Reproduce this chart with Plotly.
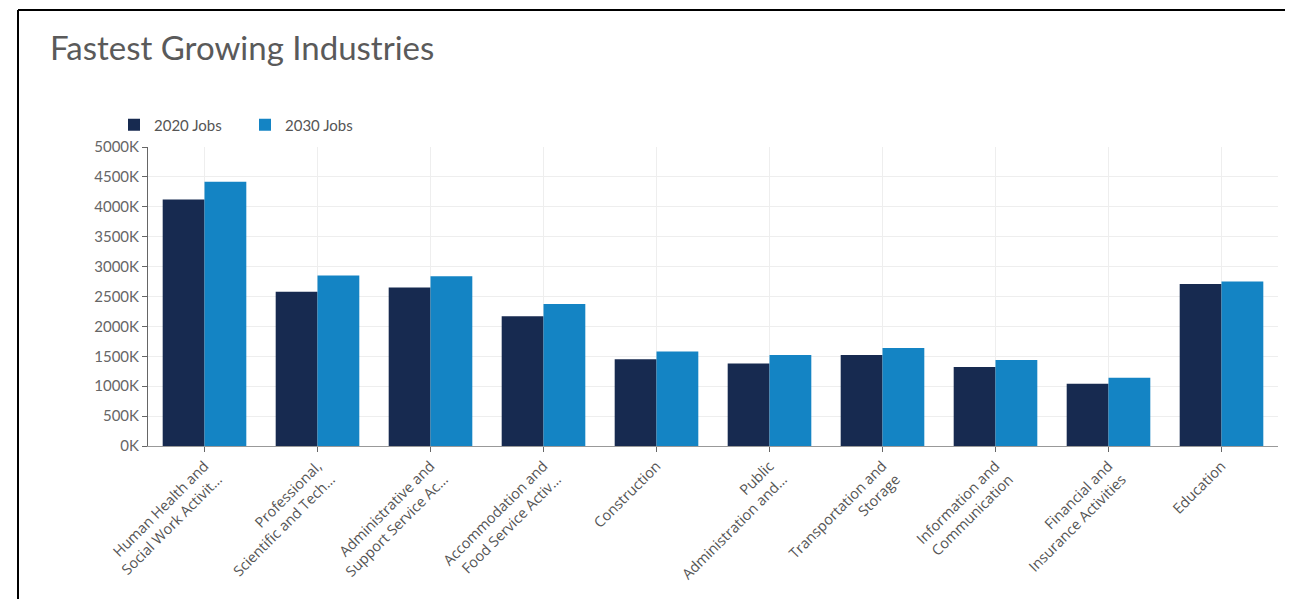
import plotly.graph_objects as go

categories = [
    "Human Health and<br>Social Work Activit…",
    "Professional,<br>Scientific and Tech…",
    "Administrative and<br>Support Service Ac…",
    "Accommodation and<br>Food Service Activ…",
    "Construction",
    "Public<br>Administration and…",
    "Transportation and<br>Storage",
    "Information and<br>Communication",
    "Financial and<br>Insurance Activities",
    "Education",
]
jobs_2020 = [4120, 2580, 2650, 2170, 1450, 1380, 1520, 1320, 1040, 2710]
jobs_2030 = [4420, 2850, 2840, 2375, 1580, 1520, 1640, 1440, 1140, 2750]
y_tickvals = [0, 500, 1000, 1500, 2000, 2500, 3000, 3500, 4000, 4500, 5000]
y_ticktext = ["0K", "500K", "1000K", "1500K", "2000K", "2500K", "3000K",
              "3500K", "4000K", "4500K", "5000K"]

# page body has an 8px margin; work in figure coords (screen - 8)
OFF = 8
W, H = 1293 - OFF, 599 - OFF
L, T = 148 - OFF, 147 - OFF
R = W - (1278 - OFF)
B = H - (446 - OFF)
pw, ph = W - L - R, H - T - B

def px_x(p):
    return (p - OFF - L) / pw

def px_y(p):
    return (H - B - (p - OFF)) / ph

fig = go.Figure()
fig.add_trace(go.Bar(x=categories, y=jobs_2020, name="2020 Jobs",
                     marker=dict(color="#172a50", line=dict(width=0))))
fig.add_trace(go.Bar(x=categories, y=jobs_2030, name="2030 Jobs",
                     marker=dict(color="#1484c4", line=dict(width=0))))

fig.update_layout(
    width=W, height=H,
    margin=dict(l=L, r=R, t=T, b=B, autoexpand=False),
    paper_bgcolor="white", plot_bgcolor="white",
    font=dict(family="Lato, sans-serif", color="#555555", size=12),
    barmode="group", bargap=0.26, bargroupgap=0,
    title=dict(text="Fastest Growing Industries", x=(50 - OFF) / W,
               xanchor="left", xref="container",
               y=1 - (48 - OFF) / H, yanchor="middle", yref="container",
               font=dict(family="Lato, sans-serif", size=33, color="#5a5a5a")),
    legend=dict(orientation="h", x=px_x(114), y=px_y(125), xanchor="left",
                yanchor="middle", font=dict(size=15, color="#555555"),
                bgcolor="rgba(0,0,0,0)", itemwidth=30, traceorder="normal",
                entrywidth=86),
    xaxis=dict(type="category", tickangle=-45, showgrid=True,
               gridcolor="#eeeeee", gridwidth=1, showline=True,
               linecolor="#999999", linewidth=1, ticks="outside", ticklen=5,
               tickcolor="#666666",
               tickfont=dict(size=14.5, color="#555555",
                             family="Open Sans, sans-serif")),
    yaxis=dict(range=[0, 5000], tickvals=y_tickvals, ticktext=y_ticktext,
               showgrid=True, gridcolor="#eeeeee", gridwidth=1,
               showline=True, linecolor="#666666", linewidth=1,
               ticks="outside", ticklen=5, tickcolor="#666666",
               zeroline=False, tickfont=dict(size=15, color="#666666")),
    shapes=[
        dict(type="line", xref="paper", yref="paper",
             x0=px_x(18), x1=px_x(18), y0=px_y(10), y1=px_y(610),
             line=dict(color="black", width=2)),
        dict(type="line", xref="paper", yref="paper",
             x0=px_x(18), x1=px_x(1300), y0=px_y(10), y1=px_y(10),
             line=dict(color="black", width=2)),
    ],
)

fig.write_html("out.html")
